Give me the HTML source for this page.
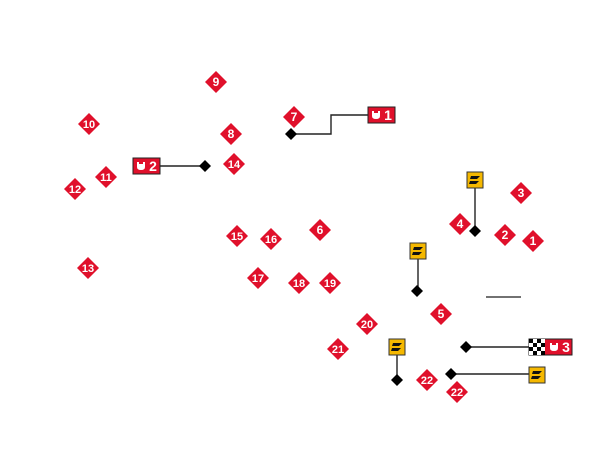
<!DOCTYPE html>
<html><head><style>
body{margin:0;background:#fff;width:600px;height:468px;overflow:hidden}
text{font-family:"Liberation Sans",sans-serif;font-weight:bold;fill:#fff;text-anchor:middle}
</style></head><body>
<svg width="600" height="468" viewBox="0 0 600 468" xmlns="http://www.w3.org/2000/svg">
<defs>
<path id="rd" d="M0,-11 L11,0 L0,11 L-11,0Z" fill="#e0102b"/>
<path id="bd" d="M0,-6 L6,0 L0,6 L-6,0Z" fill="#000"/>
<g id="yb"><rect x="-8" y="-8" width="16" height="16" fill="#f5b800" stroke="#333" stroke-width="1"/><path d="M-4,-4 L5,-4 L2,-1 L-5,-1Z M-5,1 L4,1 L1,4 L-6,4Z" fill="#111"/></g>
<g id="cup"><path d="M-4,-4 L-2,-4 L-2,-2 L2,-2 L2,-4 L4,-4 L4,1 Q4,4 0,4 Q-4,4 -4,1Z" fill="#fff"/></g>
</defs>
<g stroke="#222" stroke-width="1.4" fill="none">
<polyline points="291,134 331,134 331,115 368,115"/>
<line x1="160" y1="166" x2="205" y2="166"/>
<line x1="475" y1="180" x2="475" y2="231"/>
<line x1="418" y1="251" x2="418" y2="291"/>
<line x1="397" y1="347" x2="397" y2="380"/>
<line x1="451" y1="374" x2="529" y2="374"/>
<line x1="466" y1="347" x2="529" y2="347"/>
<line x1="486" y1="297" x2="521" y2="297" stroke="#444"/>
</g>
<use href="#bd" x="291" y="134"/><use href="#bd" x="205" y="166"/><use href="#bd" x="475" y="231"/>
<use href="#bd" x="417" y="291"/><use href="#bd" x="466" y="347"/><use href="#bd" x="397" y="380"/><use href="#bd" x="451" y="374"/>
<use href="#yb" x="475" y="180"/><use href="#yb" x="418" y="251"/><use href="#yb" x="397" y="347"/><use href="#yb" x="537" y="375"/>
<rect x="368" y="107" width="27" height="16" fill="#e0102b" stroke="#222"/><use href="#cup" x="376" y="115"/><text x="388" y="120" font-size="14">1</text>
<rect x="133" y="158" width="27" height="16" fill="#e0102b" stroke="#222"/><use href="#cup" x="141" y="166"/><text x="153" y="171" font-size="14">2</text>
<rect x="529" y="339" width="43" height="16" fill="#e0102b" stroke="#222"/>
<g fill="#000"><rect x="529" y="339" width="16" height="16" fill="#fff"/><rect x="529" y="339" width="4" height="4"/><rect x="537" y="339" width="4" height="4"/><rect x="533" y="343" width="4" height="4"/><rect x="541" y="343" width="4" height="4"/><rect x="529" y="347" width="4" height="4"/><rect x="537" y="347" width="4" height="4"/><rect x="533" y="351" width="4" height="4"/><rect x="541" y="351" width="4" height="4"/></g>
<use href="#cup" x="554" y="347"/><text x="566" y="352" font-size="14">3</text>
<g font-size="12">
<use href="#rd" x="216" y="82"/><text x="216" y="86">9</text>
<use href="#rd" x="89" y="124"/><text x="89" y="128" font-size="11">10</text>
<use href="#rd" x="231" y="134"/><text x="231" y="138">8</text>
<use href="#rd" x="294" y="117"/><text x="294" y="121">7</text>
<use href="#rd" x="234" y="164"/><text x="234" y="168" font-size="11">14</text>
<use href="#rd" x="106" y="177"/><text x="106" y="181" font-size="11">11</text>
<use href="#rd" x="75" y="189"/><text x="75" y="193" font-size="11">12</text>
<use href="#rd" x="88" y="268"/><text x="88" y="272" font-size="11">13</text>
<use href="#rd" x="237" y="236"/><text x="237" y="240" font-size="11">15</text>
<use href="#rd" x="271" y="239"/><text x="271" y="243" font-size="11">16</text>
<use href="#rd" x="320" y="230"/><text x="320" y="234">6</text>
<use href="#rd" x="258" y="278"/><text x="258" y="282" font-size="11">17</text>
<use href="#rd" x="299" y="283"/><text x="299" y="287" font-size="11">18</text>
<use href="#rd" x="330" y="283"/><text x="330" y="287" font-size="11">19</text>
<use href="#rd" x="367" y="324"/><text x="367" y="328" font-size="11">20</text>
<use href="#rd" x="338" y="349"/><text x="338" y="353" font-size="11">21</text>
<use href="#rd" x="441" y="314"/><text x="441" y="318">5</text>
<use href="#rd" x="460" y="224"/><text x="460" y="228">4</text>
<use href="#rd" x="521" y="193"/><text x="521" y="197">3</text>
<use href="#rd" x="505" y="235"/><text x="505" y="239">2</text>
<use href="#rd" x="533" y="241"/><text x="533" y="245">1</text>
<use href="#rd" x="427" y="380"/><text x="427" y="384" font-size="11">22</text>
<use href="#rd" x="457" y="392"/><text x="457" y="396" font-size="11">22</text>
</g>
</svg>
</body></html>
